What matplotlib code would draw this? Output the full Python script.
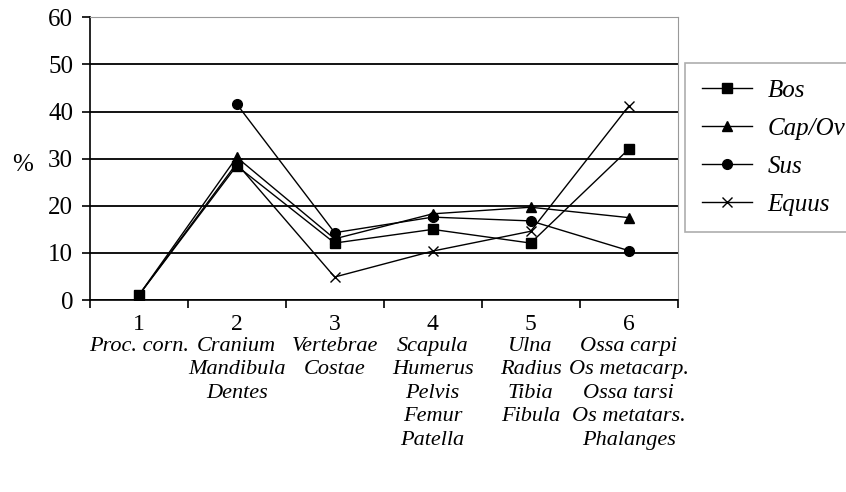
import numpy as np
import matplotlib
matplotlib.use('Agg')
import matplotlib.pyplot as plt

plt.rcParams['font.family'] = ['Liberation Serif', 'DejaVu Serif']

# data (percent)
groups = [1, 2, 3, 4, 5, 6]
group_names = ['Proc. corn.',
               'Cranium\nMandibula\nDentes',
               'Vertebrae\nCostae',
               'Scapula\nHumerus\nPelvis\nFemur\nPatella',
               'Ulna\nRadius\nTibia\nFibula',
               'Ossa carpi\nOs metacarp.\nOssa tarsi\nOs metatars.\nPhalanges']
bos = [1.0, 28.5, 12.1, 15.0, 12.1, 32.0]
capov = [1.0, 30.3, 13.0, 18.3, 19.7, 17.5]
sus = [np.nan, 41.6, 14.3, 17.6, 16.8, 10.5]
equus = [1.0, 29.0, 4.9, 10.4, 14.6, 41.1]
yticks = [0, 10, 20, 30, 40, 50, 60]

fig = plt.figure(figsize=(8.46, 4.92), dpi=100)
ax = fig.add_axes([0.106, 0.39, 0.695, 0.575])

ax.plot(groups, bos, color='black', lw=1, marker='s', ms=7, label='Bos')
ax.plot(groups, capov, color='black', lw=1, marker='^', ms=7, label='Cap/Ov')
ax.plot(groups, sus, color='black', lw=1, marker='o', ms=7, label='Sus')
ax.plot(groups, equus, color='black', lw=1, marker='x', ms=7, mew=1, label='Equus')

ax.set_xlim(0.5, 6.5)
ax.set_ylim(0, 60)
ax.set_yticks(yticks)
ax.set_yticklabels([str(v) for v in yticks], fontsize=18)
ax.yaxis.grid(True, color='black', lw=1.3)
ax.set_axisbelow(True)

# ticks at group boundaries, labels drawn as text under each group
ax.set_xticks(np.arange(0.5, 7.0, 1.0))
ax.set_xticklabels([])
ax.tick_params(axis='x', direction='out', length=6, width=1.2)
ax.tick_params(axis='y', direction='out', length=6, width=1.2, pad=6)

for g, name in zip(groups, group_names):
    ax.text(g, -0.05, str(g), transform=ax.get_xaxis_transform(),
            ha='center', va='top', fontsize=17)
    ax.text(g, -0.13, name, transform=ax.get_xaxis_transform(),
            ha='center', va='top', fontsize=16, style='italic', linespacing=1.32)

for s in ['top', 'right']:
    ax.spines[s].set_color('#999999')
for s in ['left', 'bottom']:
    ax.spines[s].set_linewidth(1.2)

fig.text(0.027, 0.665, '%', fontsize=18, ha='center', va='center')

leg = fig.legend(loc='upper left', bbox_to_anchor=(0.81, 0.872), frameon=True,
                 fancybox=False, edgecolor='#999999', borderaxespad=0,
                 prop={'style': 'italic', 'size': 18}, handlelength=2.0,
                 handletextpad=0.65, labelspacing=0.62, borderpad=0.65)
leg.get_frame().set_linewidth(1.2)

fig.savefig('out.png', dpi=100)
